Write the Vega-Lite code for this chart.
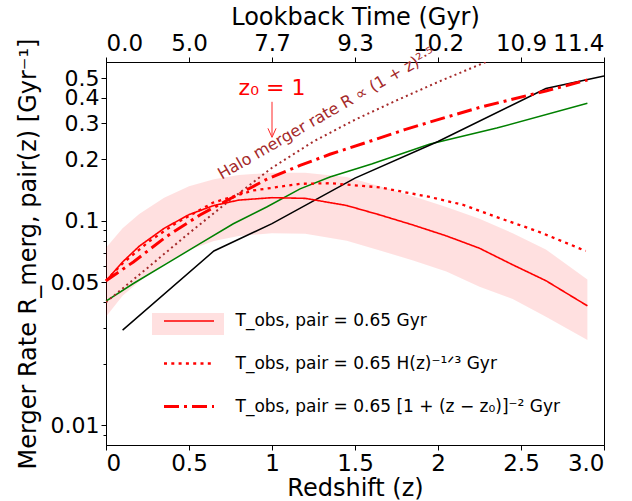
{
  "$schema": "https://vega.github.io/schema/vega-lite/v6.json",
  "width": 498,
  "height": 383,
  "autosize": "none",
  "padding": {"left": 106, "top": 62, "right": 28, "bottom": 56},
  "datasets": {
    "band": [
      {"z": 0, "lo": 0.034, "hi": 0.074},
      {"z": 0.1, "lo": 0.043, "hi": 0.092},
      {"z": 0.2, "lo": 0.0505, "hi": 0.108},
      {"z": 0.35, "lo": 0.0615, "hi": 0.13},
      {"z": 0.5, "lo": 0.072, "hi": 0.148},
      {"z": 0.65, "lo": 0.0797, "hi": 0.16},
      {"z": 0.8, "lo": 0.0845, "hi": 0.168},
      {"z": 1.0, "lo": 0.087, "hi": 0.172},
      {"z": 1.2, "lo": 0.0865, "hi": 0.172},
      {"z": 1.45, "lo": 0.08, "hi": 0.164},
      {"z": 1.65, "lo": 0.0717, "hi": 0.148},
      {"z": 1.85, "lo": 0.064, "hi": 0.132},
      {"z": 2.05, "lo": 0.0566, "hi": 0.117},
      {"z": 2.25, "lo": 0.0476, "hi": 0.1025},
      {"z": 2.45, "lo": 0.0415, "hi": 0.087},
      {"z": 2.65, "lo": 0.034, "hi": 0.0725},
      {"z": 2.9, "lo": 0.0261, "hi": 0.0517}
    ],
    "red": [
      {"s": "T_obs, pair = 0.65 Gyr", "z": 0, "R": 0.051},
      {"s": "T_obs, pair = 0.65 Gyr", "z": 0.1, "R": 0.063},
      {"s": "T_obs, pair = 0.65 Gyr", "z": 0.2, "R": 0.0752},
      {"s": "T_obs, pair = 0.65 Gyr", "z": 0.35, "R": 0.092},
      {"s": "T_obs, pair = 0.65 Gyr", "z": 0.5, "R": 0.1074},
      {"s": "T_obs, pair = 0.65 Gyr", "z": 0.65, "R": 0.119},
      {"s": "T_obs, pair = 0.65 Gyr", "z": 0.8, "R": 0.1265},
      {"s": "T_obs, pair = 0.65 Gyr", "z": 1.0, "R": 0.13},
      {"s": "T_obs, pair = 0.65 Gyr", "z": 1.2, "R": 0.129},
      {"s": "T_obs, pair = 0.65 Gyr", "z": 1.45, "R": 0.119},
      {"s": "T_obs, pair = 0.65 Gyr", "z": 1.65, "R": 0.107},
      {"s": "T_obs, pair = 0.65 Gyr", "z": 1.85, "R": 0.0955},
      {"s": "T_obs, pair = 0.65 Gyr", "z": 2.05, "R": 0.0845},
      {"s": "T_obs, pair = 0.65 Gyr", "z": 2.25, "R": 0.0735},
      {"s": "T_obs, pair = 0.65 Gyr", "z": 2.45, "R": 0.061},
      {"s": "T_obs, pair = 0.65 Gyr", "z": 2.65, "R": 0.051},
      {"s": "T_obs, pair = 0.65 Gyr", "z": 2.9, "R": 0.0384},
      {"s": "T_obs, pair = 0.65 H(z)⁻¹ᐟ³ Gyr", "z": 0, "R": 0.051},
      {"s": "T_obs, pair = 0.65 H(z)⁻¹ᐟ³ Gyr", "z": 0.1, "R": 0.062},
      {"s": "T_obs, pair = 0.65 H(z)⁻¹ᐟ³ Gyr", "z": 0.265, "R": 0.08},
      {"s": "T_obs, pair = 0.65 H(z)⁻¹ᐟ³ Gyr", "z": 0.426, "R": 0.098},
      {"s": "T_obs, pair = 0.65 H(z)⁻¹ᐟ³ Gyr", "z": 0.646, "R": 0.123},
      {"s": "T_obs, pair = 0.65 H(z)⁻¹ᐟ³ Gyr", "z": 0.888, "R": 0.141},
      {"s": "T_obs, pair = 0.65 H(z)⁻¹ᐟ³ Gyr", "z": 1.17, "R": 0.152},
      {"s": "T_obs, pair = 0.65 H(z)⁻¹ᐟ³ Gyr", "z": 1.35, "R": 0.153},
      {"s": "T_obs, pair = 0.65 H(z)⁻¹ᐟ³ Gyr", "z": 1.65, "R": 0.146},
      {"s": "T_obs, pair = 0.65 H(z)⁻¹ᐟ³ Gyr", "z": 1.95, "R": 0.131},
      {"s": "T_obs, pair = 0.65 H(z)⁻¹ᐟ³ Gyr", "z": 2.15, "R": 0.12},
      {"s": "T_obs, pair = 0.65 H(z)⁻¹ᐟ³ Gyr", "z": 2.354, "R": 0.1044},
      {"s": "T_obs, pair = 0.65 H(z)⁻¹ᐟ³ Gyr", "z": 2.6, "R": 0.089},
      {"s": "T_obs, pair = 0.65 H(z)⁻¹ᐟ³ Gyr", "z": 2.89, "R": 0.0713},
      {"s": "T_obs, pair = 0.65 [1 + (z − z₀)]⁻² Gyr", "z": 0, "R": 0.051},
      {"s": "T_obs, pair = 0.65 [1 + (z − z₀)]⁻² Gyr", "z": 0.165, "R": 0.063},
      {"s": "T_obs, pair = 0.65 [1 + (z − z₀)]⁻² Gyr", "z": 0.365, "R": 0.084},
      {"s": "T_obs, pair = 0.65 [1 + (z − z₀)]⁻² Gyr", "z": 0.566, "R": 0.107},
      {"s": "T_obs, pair = 0.65 [1 + (z − z₀)]⁻² Gyr", "z": 0.767, "R": 0.131},
      {"s": "T_obs, pair = 0.65 [1 + (z − z₀)]⁻² Gyr", "z": 0.968, "R": 0.16},
      {"s": "T_obs, pair = 0.65 [1 + (z − z₀)]⁻² Gyr", "z": 1.169, "R": 0.187},
      {"s": "T_obs, pair = 0.65 [1 + (z − z₀)]⁻² Gyr", "z": 1.349, "R": 0.212},
      {"s": "T_obs, pair = 0.65 [1 + (z − z₀)]⁻² Gyr", "z": 1.6, "R": 0.247},
      {"s": "T_obs, pair = 0.65 [1 + (z − z₀)]⁻² Gyr", "z": 1.8, "R": 0.28},
      {"s": "T_obs, pair = 0.65 [1 + (z − z₀)]⁻² Gyr", "z": 1.952, "R": 0.305},
      {"s": "T_obs, pair = 0.65 [1 + (z − z₀)]⁻² Gyr", "z": 2.253, "R": 0.36},
      {"s": "T_obs, pair = 0.65 [1 + (z − z₀)]⁻² Gyr", "z": 2.655, "R": 0.434},
      {"s": "T_obs, pair = 0.65 [1 + (z − z₀)]⁻² Gyr", "z": 2.9, "R": 0.49}
    ],
    "green": [
      {"z": 0, "R": 0.0405},
      {"z": 0.165, "R": 0.0494},
      {"z": 0.365, "R": 0.0618},
      {"z": 0.566, "R": 0.0774},
      {"z": 0.767, "R": 0.0969},
      {"z": 0.968, "R": 0.117},
      {"z": 1.169, "R": 0.1435},
      {"z": 1.349, "R": 0.164},
      {"z": 1.6, "R": 0.19},
      {"z": 1.952, "R": 0.238},
      {"z": 2.354, "R": 0.285},
      {"z": 2.9, "R": 0.377}
    ],
    "black": [
      {"z": 0.1, "R": 0.0292},
      {"z": 0.65, "R": 0.0713},
      {"z": 1.0, "R": 0.097},
      {"z": 1.5, "R": 0.162},
      {"z": 2.0, "R": 0.245},
      {"z": 2.65, "R": 0.445},
      {"z": 3.0, "R": 0.513}
    ],
    "halo": [
      {"z": 0, "R": 0.04},
      {"z": 0.25, "R": 0.0589},
      {"z": 0.5, "R": 0.0871},
      {"z": 0.75, "R": 0.127},
      {"z": 1.0, "R": 0.182},
      {"z": 1.25, "R": 0.245},
      {"z": 1.5, "R": 0.313},
      {"z": 1.75, "R": 0.389},
      {"z": 2.0, "R": 0.479},
      {"z": 2.25, "R": 0.582},
      {"z": 2.4, "R": 0.653}
    ],
    "notes": [
      {"z": 1.0, "R": 0.415, "label": "z₀ = 1"}
    ],
    "arrow": [
      {"z": 1.0, "R": 0.383, "R2": 0.262}
    ],
    "head": [
      {"z": 1.0, "R": 0.27}
    ],
    "halotext": [
      {"z": 0.697, "R": 0.159, "label": "Halo merger rate R ∝ (1 + z)²·⁵"}
    ]
  },
  "layer": [
    {
      "data": {"name": "band"},
      "mark": {"type": "area", "opacity": 0.12},
      "encoding": {
        "x": {
          "field": "z", "type": "quantitative",
          "scale": {"domain": [0, 3], "nice": false, "zero": false},
          "axis": {
            "orient": "bottom", "values": [0, 0.5, 1, 1.5, 2, 2.5, 3],
            "labelExpr": "datum.value == 3 ? '3.0' : format(datum.value, '~g')",
            "title": "Redshift (z)", "tickSize": 5, "labelPadding": 2, "titlePadding": 1,
            "labelOverlap": false
          }
        },
        "y": {
          "field": "lo", "type": "quantitative",
          "scale": {"type": "log", "domain": [0.008, 0.6], "nice": false},
          "axis": {
            "orient": "left",
            "values": [0.01, 0.05, 0.1, 0.2, 0.3, 0.4, 0.5],
            "format": "~g", "labelOverlap": false, "labelFontSize": 22,
            "title": "Merger Rate R_merg, pair(z) [Gyr⁻¹]",
            "tickSize": 5, "labelPadding": 2, "titlePadding": 10
          }
        },
        "y2": {"field": "hi"},
        "fill": {
          "datum": "band", "type": "nominal",
          "scale": {"range": ["#ff0000"]},
          "legend": {
            "orient": "none", "legendX": 72, "legendY": 252, "title": null,
            "padding": 0,
            "symbolType": "M-3.6,-1.1H3.6V1.1H-3.6Z", "symbolSize": 400,
            "symbolStrokeWidth": 0, "labelExpr": "''",
            "encode": {"symbols": {"update": {"opacity": {"value": 0.33}}}}
          }
        }
      }
    },
    {
      "data": {"name": "green"},
      "mark": {"type": "line", "color": "green", "strokeWidth": 1.5},
      "encoding": {
        "x": {
          "field": "z", "type": "quantitative",
          "axis": {
            "orient": "top", "values": [0, 0.5, 1, 1.5, 2, 2.5, 3],
            "labelExpr": "datum.value == 0 ? '0.0' : datum.value == 0.5 ? '5.0' : datum.value == 1 ? '7.7' : datum.value == 1.5 ? '9.3' : datum.value == 2 ? '10.2' : datum.value == 2.5 ? '10.9' : '11.4'",
            "title": "Lookback Time (Gyr)", "tickSize": 5, "labelPadding": 2, "titlePadding": 3,
            "labelOverlap": false
          }
        },
        "y": {
          "field": "R", "type": "quantitative",
          "axis": {
            "orient": "left",
            "values": [0.009, 0.02, 0.03, 0.04, 0.06, 0.07, 0.08, 0.09],
            "labels": false, "domain": false, "tickSize": 3, "title": null
          }
        }
      }
    },
    {
      "data": {"name": "black"},
      "mark": {"type": "line", "color": "black", "strokeWidth": 1.5},
      "encoding": {
        "x": {"field": "z", "type": "quantitative", "axis": null},
        "y": {"field": "R", "type": "quantitative", "axis": null}
      }
    },
    {
      "data": {"name": "halo"},
      "mark": {"type": "line", "color": "#a52a2a", "strokeWidth": 2, "strokeDash": [2, 3.3], "clip": true},
      "encoding": {
        "x": {"field": "z", "type": "quantitative", "axis": null},
        "y": {"field": "R", "type": "quantitative", "axis": null}
      }
    },
    {
      "data": {"name": "red"},
      "mark": {"type": "line", "color": "red"},
      "encoding": {
        "x": {"field": "z", "type": "quantitative", "axis": null},
        "y": {"field": "R", "type": "quantitative", "axis": null},
        "strokeDash": {
          "field": "s", "type": "nominal",
          "scale": {
            "domain": ["T_obs, pair = 0.65 Gyr", "T_obs, pair = 0.65 H(z)⁻¹ᐟ³ Gyr", "T_obs, pair = 0.65 [1 + (z − z₀)]⁻² Gyr"],
            "range": [[1, 0], [3, 4.3], [15, 5, 3, 5]]
          },
          "legend": {
            "orient": "none", "legendX": 71.5, "legendY": 248, "title": null,
            "padding": 0,
            "symbolType": "M-2.5,0H2.5", "symbolSize": 400,
            "symbolStrokeColor": "red",
            "labelFontSize": 17, "labelOffset": 35, "rowPadding": 23, "labelLimit": 600
          }
        },
        "strokeWidth": {
          "field": "s", "type": "nominal",
          "scale": {
            "domain": ["T_obs, pair = 0.65 Gyr", "T_obs, pair = 0.65 H(z)⁻¹ᐟ³ Gyr", "T_obs, pair = 0.65 [1 + (z − z₀)]⁻² Gyr"],
            "range": [1.6, 3, 3.3]
          },
          "legend": null
        }
      }
    },
    {
      "data": {"name": "arrow"},
      "mark": {"type": "rule", "color": "red", "strokeWidth": 1, "opacity": 0.85},
      "encoding": {
        "x": {"field": "z", "type": "quantitative", "axis": null},
        "y": {"field": "R", "type": "quantitative", "axis": null},
        "y2": {"field": "R2"}
      }
    },
    {
      "data": {"name": "head"},
      "mark": {"type": "point", "shape": "M-0.45,-0.5L0,0.5L0.45,-0.5", "filled": false, "size": 324, "color": "red", "strokeWidth": 1, "opacity": 0.85},
      "encoding": {
        "x": {"field": "z", "type": "quantitative", "axis": null},
        "y": {"field": "R", "type": "quantitative", "axis": null}
      }
    },
    {
      "data": {"name": "notes"},
      "mark": {"type": "text", "color": "red", "fontSize": 22, "align": "center", "baseline": "alphabetic"},
      "encoding": {
        "x": {"field": "z", "type": "quantitative", "axis": null},
        "y": {"field": "R", "type": "quantitative", "axis": null},
        "text": {"field": "label"}
      }
    },
    {
      "data": {"name": "halotext"},
      "mark": {"type": "text", "color": "#a52a2a", "fontSize": 16, "align": "left", "baseline": "alphabetic", "angle": -30},
      "encoding": {
        "x": {"field": "z", "type": "quantitative", "axis": null},
        "y": {"field": "R", "type": "quantitative", "axis": null},
        "text": {"field": "label"}
      }
    }
  ],
  "resolve": {"axis": {"x": "independent", "y": "independent"}},
  "config": {
    "font": "DejaVu Sans",
    "view": {"stroke": "black", "strokeWidth": 1},
    "axis": {
      "grid": false,
      "labelFont": "DejaVu Sans", "titleFont": "DejaVu Sans",
      "labelFontSize": 23, "titleFontSize": 24, "titleFontWeight": "normal",
      "labelColor": "black", "titleColor": "black",
      "domainColor": "black", "tickColor": "black", "domainWidth": 1, "tickWidth": 1
    },
    "legend": {"labelFont": "DejaVu Sans", "labelColor": "black"}
  }
}
